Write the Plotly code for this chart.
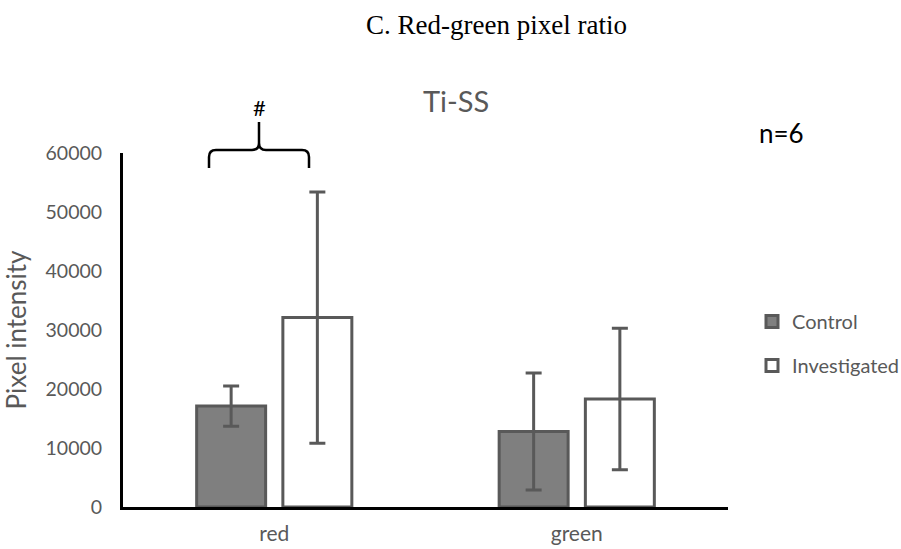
import plotly.graph_objects as go

categories = ["red", "green"]
control_vals = [17100, 12800]
control_err = [3400, 9900]
invest_vals = [32100, 18300]
invest_err = [21300, 12000]
series_names = ["Control", "Investigated"]
y_ticks = [0, 10000, 20000, 30000, 40000, 50000, 60000]

W, H = 901, 549
L, R, T, B = 123, 728, 153, 507  # plot area in pixels

def px(x):
    return (x - L) / (R - L)

def py(y):
    return (B - y) / (B - T)

GRAY = "#595959"
FONT = "Lato"

fig = go.Figure()
fig.add_trace(go.Bar(
    x=categories, y=control_vals, name=series_names[0],
    marker=dict(color="#7f7f7f", line=dict(color=GRAY, width=3)),
    error_y=dict(type="data", array=control_err, color=GRAY, thickness=3, width=8),
    legendgroup="a",
))
fig.add_trace(go.Bar(
    x=categories, y=invest_vals, name=series_names[1],
    marker=dict(color="#ffffff", line=dict(color=GRAY, width=3)),
    error_y=dict(type="data", array=invest_err, color=GRAY, thickness=3, width=8),
    legendgroup="b",
))

# brace path (pixel coords -> paper)
def P(x, y):
    return f"{px(x):.5f},{py(y):.5f}"

brace = (
    f"M{P(209,168)} L{P(209,157)} Q{P(209,150)} {P(216,150)} L{P(252,150)} "
    f"Q{P(259,150)} {P(259,143)} L{P(259,122)} M{P(259,143)} "
    f"Q{P(259,150)} {P(266,150)} L{P(302,150)} Q{P(309,150)} {P(309,157)} L{P(309,168)}"
)

def ann(text, x, y, size, color, family=FONT):
    return dict(text=text, xref="paper", yref="paper", x=px(x), y=py(y),
                xanchor="center", yanchor="middle", showarrow=False,
                font=dict(family=family, size=size, color=color))

fig.update_layout(
    width=W, height=H,
    margin=dict(l=L, r=W - R, t=T, b=H - B, pad=0, autoexpand=False),
    paper_bgcolor="white", plot_bgcolor="white",
    barmode="group", bargap=0.43, bargroupgap=0.2,
    font=dict(family=FONT, color=GRAY, size=19),
    showlegend=True,
    legend=dict(
        x=px(752), y=py(302), xanchor="left", yanchor="top",
        traceorder="grouped", tracegroupgap=15,
        font=dict(size=20, color=GRAY, family=FONT),
        bgcolor="rgba(0,0,0,0)",
    ),
    xaxis=dict(
        type="category", showline=True, linecolor="black", linewidth=3,
        showgrid=False, ticks="", tickfont=dict(size=21, color=GRAY, family=FONT),
        ticklabelstandoff=6, zeroline=False, automargin=False,
    ),
    yaxis=dict(
        range=[0, 60000], tickvals=y_ticks, ticktext=[str(v) for v in y_ticks],
        showline=True, linecolor="black", linewidth=3, showgrid=False,
        zeroline=False, ticks="", tickfont=dict(size=19.5, color=GRAY, family=FONT),
        ticklabelstandoff=14, automargin=False,
        title=dict(text="Pixel intensity", font=dict(size=26, color=GRAY, family=FONT), standoff=14),
    ),
    shapes=[dict(type="path", xref="paper", yref="paper", path=brace,
                 line=dict(color="black", width=2.5))],
    annotations=[
        ann("C. Red-green pixel ratio", 496, 25, 27, "black", "Liberation Serif"),
        ann("Ti-SS", 456, 100, 29, GRAY),
        ann("n=6", 781, 133, 26, "black"),
        ann("#", 259, 108, 22, "black"),
    ],
)

fig.write_html("out.html")
